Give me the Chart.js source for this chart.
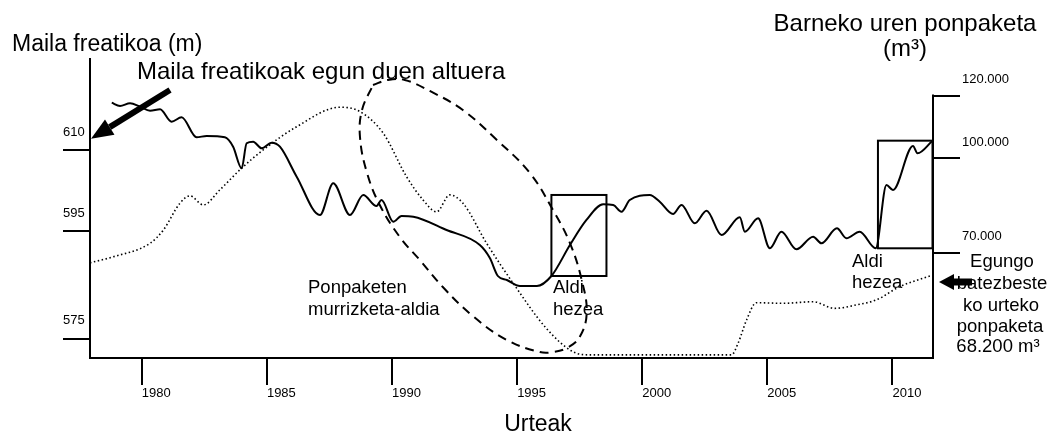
<!DOCTYPE html>
<html>
<head>
<meta charset="utf-8">
<script src="https://cdn.jsdelivr.net/npm/chart.js@4"></script>
<style>
  html, body { margin: 0; padding: 0; background: #fff; }
  canvas { display: block; }
</style>
</head>
<body>
<canvas id="chart" width="1048" height="434"></canvas>
<script>
const yearTicks = [1980, 1985, 1990, 1995, 2000, 2005, 2010];
const levelTicks = [575, 595, 610];
const pumpTicks = [70000, 100000, 120000];

// Maila freatikoa (m)
const levelYears = [1978.80, 1979.13, 1979.53, 1979.93, 1980.33, 1980.73, 1981.19, 1981.59, 1982.19, 1982.59,
    1983.32, 1983.65, 1983.99, 1984.19, 1984.45, 1984.79, 1985.19, 1985.52, 1986.19, 1987.12,
    1987.65, 1988.32, 1988.85, 1989.38, 1989.58, 1990.05, 1990.38, 1990.85, 1992.18, 1993.51,
    1993.91, 1994.23, 1994.59, 1995.11, 1995.79, 1996.37, 1997.11, 1997.77, 1998.44, 1998.84,
    1999.17, 1999.50, 2000.30, 2000.70, 2001.23, 2001.57, 2002.10, 2002.57, 2003.17, 2003.90,
    2004.10, 2004.63, 2005.10, 2005.56, 2006.16, 2006.83, 2007.16, 2007.78, 2008.16, 2008.69,
    2009.33, 2009.76, 2010.02, 2010.82, 2011.00, 2011.60];
const levelMeters = [618.85, 618.24, 618.74, 618.11, 617.36, 617.62, 615.32, 616.14, 612.42, 612.66,
    612.42, 610.67, 606.66, 611.30, 611.60, 610.37, 611.42, 610.67, 605.10, 597.98,
    603.87, 597.98, 601.69, 599.65, 600.76, 596.73, 597.79, 597.66, 595.19, 592.40,
    589.98, 586.64, 585.90, 584.78, 584.78, 586.64, 592.40, 597.05, 599.97, 599.84,
    598.59, 600.76, 601.69, 600.45, 598.16, 599.84, 596.43, 598.78, 594.26, 597.55,
    594.87, 597.36, 591.79, 594.87, 591.60, 593.94, 592.72, 595.50, 593.65, 594.87,
    591.79, 603.55, 602.62, 610.80, 609.45, 611.79];

// Barneko uren ponpaketa (m3)
const pumpYears = [1977.93, 1978.86, 1980.33, 1980.86, 1981.52, 1981.92, 1982.46, 1983.12, 1983.99, 1984.85,
    1986.19, 1987.92, 1988.72, 1989.65, 1990.58, 1991.24, 1991.78, 1992.31, 1992.84, 1993.78,
    1994.84, 1996.17, 1997.23, 1997.90, 2003.57, 2003.83, 2004.17, 2004.56, 2005.63, 2006.83,
    2007.69, 2008.56, 2009.36, 2010.29, 2011.62];
const pumpVolumes = [66800, 68700, 73000, 77200, 85700, 88100, 85200, 90000, 96900, 102700,
    110100, 116300, 114900, 108000, 94200, 86800, 83000, 88400, 85700, 73000,
    60300, 45900, 38500, 37500, 37500, 41200, 48600, 54100, 53900, 54400,
    52300, 53400, 55000, 59200, 62900];

// dashed outline round the pumping cut period (years / m)
const cutYears = [1989.24, 1989.83, 1990.51, 1991.51, 1992.83, 1994.19, 1995.51, 1996.43, 1997.11, 1997.58,
    1997.78, 1997.50, 1996.99, 1996.43, 1995.91, 1994.59, 1993.23, 1992.03, 1991.11, 1990.31,
    1989.51, 1988.99, 1988.72, 1988.80];
const cutMeters = [622.14, 623.07, 623.07, 621.03, 617.49, 611.92, 605.78, 598.91, 592.77, 585.90,
    579.76, 575.30, 573.26, 572.51, 572.51, 574.74, 579.20, 584.59, 589.61, 593.89,
    599.84, 605.97, 612.47, 617.49];

// wet periods (Aldi hezea)
const wetFrom = [1996.37, 2009.42];
const wetTo = [1998.57, 2011.60];
const wetLow = [586.64, 591.79];
const wetHigh = [601.70, 611.79];

const FONT = '"Liberation Sans", Arial, Helvetica, sans-serif';

function toPoints(xs, ys) {
    return xs.map((x, i) => ({ x: x, y: ys[i] }));
}

function thousands(v) {
    return String(v).replace(/\B(?=(\d{3})+(?!\d))/g, '.');
}

function label(ctx, str, x, y, size, align) {
    ctx.font = size + 'px ' + FONT;
    ctx.textAlign = align || 'left';
    ctx.textBaseline = 'middle';
    ctx.fillText(str, x, y);
}

function arrow(ctx, fromX, fromY, toX, toY, shaft, headLen, headHalf) {
    const ang = Math.atan2(toY - fromY, toX - fromX);
    const bx = toX - headLen * Math.cos(ang);
    const by = toY - headLen * Math.sin(ang);
    ctx.lineWidth = shaft;
    ctx.lineCap = 'butt';
    ctx.beginPath();
    ctx.moveTo(fromX, fromY);
    ctx.lineTo(bx, by);
    ctx.stroke();
    ctx.beginPath();
    ctx.moveTo(toX, toY);
    ctx.lineTo(bx + headHalf * Math.sin(ang), by - headHalf * Math.cos(ang));
    ctx.lineTo(bx - headHalf * Math.sin(ang), by + headHalf * Math.cos(ang));
    ctx.closePath();
    ctx.fill();
}

const annotations = {
    id: 'annotations',
    afterDatasetsDraw(chart) {
        const ctx = chart.ctx;
        const area = chart.chartArea;
        const x = chart.scales.x, y = chart.scales.y, y2 = chart.scales.y2;
        ctx.save();
        ctx.strokeStyle = '#000';
        ctx.fillStyle = '#000';
        ctx.lineWidth = 2;

        // wet period boxes
        wetFrom.forEach((from, i) => {
            const left = x.getPixelForValue(from);
            const right = x.getPixelForValue(wetTo[i]);
            const top = y.getPixelForValue(wetHigh[i]);
            const bottom = y.getPixelForValue(wetLow[i]);
            ctx.strokeRect(left, top, right - left, bottom - top);
        });

        // right axis line, from its top tick down
        ctx.beginPath();
        ctx.moveTo(area.right, y2.getPixelForValue(pumpTicks[pumpTicks.length - 1]) - 1);
        ctx.lineTo(area.right, area.bottom);
        ctx.stroke();

        // titles and notes
        label(ctx, 'Maila freatikoa (m)', 12, 45, 23);
        label(ctx, 'Maila freatikoak egun duen altuera', 137, 72, 24);
        label(ctx, 'Barneko uren ponpaketa', 905, 24, 24, 'center');
        label(ctx, '(m³)', 905, 49, 24, 'center');
        label(ctx, 'Urteak', 538, 425, 23, 'center');

        label(ctx, 'Ponpaketen', 308, 288, 18.5);
        label(ctx, 'murrizketa-aldia', 308, 310, 18.5);
        label(ctx, 'Aldi', 553, 288, 18.5);
        label(ctx, 'hezea', 553, 310, 18.5);
        label(ctx, 'Aldi', 852, 262, 18.5);
        label(ctx, 'hezea', 852, 283, 18.5);

        label(ctx, 'Egungo', 1002, 262, 18.5, 'center');
        label(ctx, 'batezbeste', 1002, 284, 18.5, 'center');
        label(ctx, 'ko urteko', 1001, 306, 18.5, 'center');
        label(ctx, 'ponpaketa', 1000, 327, 18.5, 'center');
        label(ctx, '68.200 m³', 998, 347, 18.5, 'center');

        // arrows
        const nowLevel = y.getPixelForValue(levelMeters[levelMeters.length - 1]);
        arrow(ctx, 170, 90, area.left + 1, nowLevel - 2, 6, 22, 9);
        arrow(ctx, 972, 282, area.right + 6, 282, 7, 15, 8);

        ctx.restore();
    }
};

new Chart(document.getElementById('chart'), {
    type: 'scatter',
    data: {
        datasets: [{
            label: 'Maila freatikoa',
            data: toPoints(levelYears, levelMeters),
            yAxisID: 'y',
            showLine: true,
            borderColor: '#000',
            borderWidth: 2,
            pointRadius: 0,
            cubicInterpolationMode: 'monotone'
        }, {
            label: 'Barneko uren ponpaketa',
            data: toPoints(pumpYears, pumpVolumes),
            yAxisID: 'y2',
            showLine: true,
            borderColor: '#000',
            borderWidth: 1.6,
            borderDash: [1.5, 2.5],
            pointRadius: 0,
            cubicInterpolationMode: 'monotone'
        }, {
            label: 'Ponpaketen murrizketa-aldia',
            data: toPoints(cutYears.concat(cutYears[0]), cutMeters.concat(cutMeters[0])),
            yAxisID: 'y',
            showLine: true,
            borderColor: '#000',
            borderWidth: 2,
            borderDash: [9, 6],
            pointRadius: 0,
            tension: 0.4
        }]
    },
    options: {
        responsive: false,
        animation: false,
        devicePixelRatio: 1,
        layout: { padding: { left: 63, top: 59, right: 0, bottom: 0 } },
        plugins: {
            legend: { display: false },
            tooltip: { enabled: false }
        },
        scales: {
            x: {
                type: 'linear',
                min: 1977.93,
                max: 2011.62,
                afterBuildTicks: s => { s.ticks = yearTicks.map(v => ({ value: v })); },
                afterFit: s => { s.height = 76; },
                grid: { drawOnChartArea: false, color: '#000', lineWidth: 2, tickLength: 27 },
                border: { color: '#000', width: 2 },
                ticks: {
                    align: 'start',
                    padding: 1,
                    color: '#000',
                    font: { family: FONT, size: 13 },
                    callback: v => String(v)
                }
            },
            y: {
                type: 'linear',
                position: 'left',
                min: 571.4,
                max: 626.97,
                afterBuildTicks: s => { s.ticks = levelTicks.map(v => ({ value: v })); },
                afterFit: s => { s.width = 27; },
                grid: { drawOnChartArea: false, color: '#000', lineWidth: 2, tickLength: 27 },
                border: { color: '#000', width: 2 },
                ticks: {
                    crossAlign: 'far',
                    labelOffset: -18,
                    color: '#000',
                    font: { family: FONT, size: 13 },
                    callback: v => String(v)
                }
            },
            y2: {
                type: 'linear',
                position: 'right',
                min: 36500,
                max: 131634,
                afterBuildTicks: s => { s.ticks = pumpTicks.map(v => ({ value: v })); },
                afterFit: s => { s.width = 115; },
                grid: { drawOnChartArea: false, color: '#000', lineWidth: 2, tickLength: 27 },
                border: { display: false },
                ticks: {
                    labelOffset: -16,
                    padding: 2,
                    color: '#000',
                    font: { family: FONT, size: 13 },
                    callback: v => thousands(v)
                }
            }
        }
    },
    plugins: [annotations]
});
</script>
</body>
</html>
